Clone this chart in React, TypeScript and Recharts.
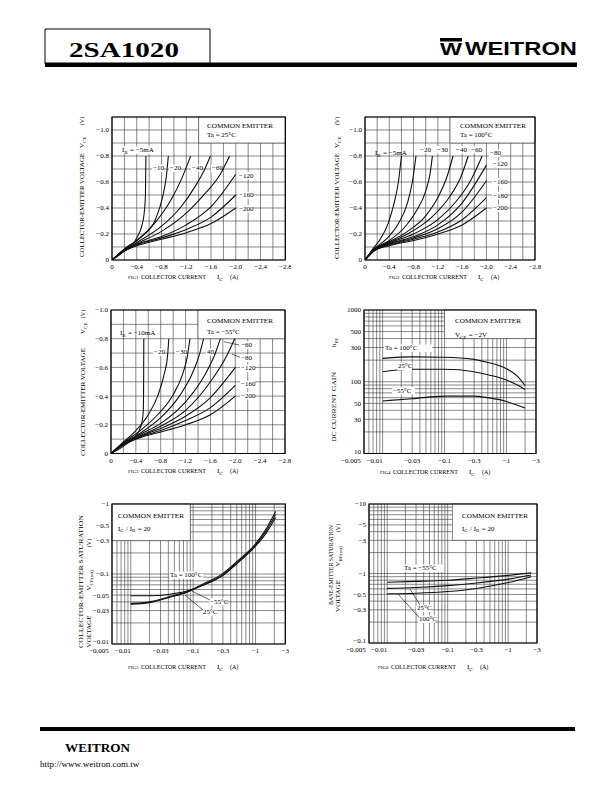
import React from "react";
import { LineChart, Line, XAxis, YAxis, CartesianGrid, ReferenceArea } from "recharts";

// 2SA1020 is PNP: currents and voltages are kept as magnitudes,
// the tick labels put the minus sign back.
const SERIF = '"Liberation Serif", "Times New Roman", serif';
const SANS = '"Liberation Sans", Arial, sans-serif';
const GRID = "#3a3a3a";
const INK = "#111";

// ---- FIG1  VCE vs IC, Ta = 25°C   [IC (A), VCE (V)]
const f1Ib5 = [[0, 0], [0.2, 0.07], [0.4, 0.17], [0.48, 0.26], [0.52, 0.36], [0.54, 0.5], [0.548, 0.8]];
const f1Ib10 = [[0, 0], [0.25, 0.1], [0.48, 0.18], [0.7, 0.31], [0.82, 0.49], [0.88, 0.65], [0.91, 0.8]];
const f1Ib20 = [[0, 0], [0.2, 0.085], [0.4, 0.15], [0.7, 0.29], [0.95, 0.46], [1.12, 0.62], [1.27, 0.8]];
const f1Ib40 = [[0, 0], [0.2, 0.08], [0.4, 0.135], [0.8, 0.26], [1.1, 0.4], [1.35, 0.57], [1.5, 0.7], [1.59, 0.8]];
const f1Ib60 = [[0, 0], [0.2, 0.075], [0.4, 0.125], [0.8, 0.22], [1.2, 0.36], [1.5, 0.51], [1.75, 0.66], [1.9, 0.8]];
const f1Ib120 = [[0, 0], [0.2, 0.07], [0.4, 0.12], [0.8, 0.18], [1.2, 0.27], [1.6, 0.41], [2.0, 0.66]];
const f1Ib160 = [[0, 0], [0.2, 0.07], [0.4, 0.115], [0.8, 0.17], [1.2, 0.235], [1.6, 0.33], [2.0, 0.5]];
const f1Ib200 = [[0, 0], [0.2, 0.07], [0.4, 0.11], [0.8, 0.16], [1.2, 0.21], [1.6, 0.28], [2.0, 0.4]];

// ---- FIG2  VCE vs IC, Ta = 100°C
const f2Ib5 = [[0, 0], [0.12, 0.08], [0.25, 0.16], [0.38, 0.28], [0.47, 0.42], [0.55, 0.6], [0.6, 0.8]];
const f2Ib20 = [[0, 0], [0.15, 0.085], [0.35, 0.16], [0.55, 0.28], [0.7, 0.44], [0.78, 0.6], [0.84, 0.8]];
const f2Ib30 = [[0, 0], [0.15, 0.08], [0.4, 0.15], [0.65, 0.25], [0.85, 0.38], [1.0, 0.53], [1.07, 0.66], [1.11, 0.8]];
const f2Ib40 = [[0, 0], [0.15, 0.08], [0.4, 0.14], [0.7, 0.22], [1.0, 0.34], [1.2, 0.48], [1.35, 0.64], [1.45, 0.8]];
const f2Ib60 = [[0, 0], [0.15, 0.075], [0.4, 0.135], [0.7, 0.2], [1.1, 0.33], [1.4, 0.49], [1.58, 0.64], [1.7, 0.8]];
const f2Ib80 = [[0, 0], [0.15, 0.075], [0.4, 0.13], [0.8, 0.2], [1.2, 0.31], [1.5, 0.45], [1.75, 0.62], [1.93, 0.8]];
const f2Ib120 = [[0, 0], [0.15, 0.075], [0.4, 0.125], [0.8, 0.18], [1.2, 0.27], [1.6, 0.44], [2.0, 0.73]];
const f2Ib160 = [[0, 0], [0.15, 0.07], [0.4, 0.12], [0.8, 0.17], [1.2, 0.24], [1.6, 0.37], [2.0, 0.61]];
const f2Ib180 = [[0, 0], [0.15, 0.07], [0.4, 0.115], [0.8, 0.16], [1.2, 0.215], [1.6, 0.31], [2.0, 0.48]];
const f2Ib200 = [[0, 0], [0.15, 0.07], [0.4, 0.11], [0.8, 0.15], [1.2, 0.2], [1.6, 0.27], [2.0, 0.4]];

// ---- FIG3  VCE vs IC, Ta = -55°C
const f3Ib10 = [[0, 0], [0.23, 0.06], [0.44, 0.15], [0.5, 0.22], [0.52, 0.3], [0.525, 0.5], [0.528, 0.8]];
const f3Ib20 = [[0, 0], [0.2, 0.08], [0.4, 0.16], [0.6, 0.27], [0.75, 0.4], [0.86, 0.56], [0.91, 0.68], [0.93, 0.8]];
const f3Ib30 = [[0, 0], [0.2, 0.075], [0.5, 0.17], [0.75, 0.27], [1.0, 0.41], [1.15, 0.55], [1.23, 0.68], [1.27, 0.8]];
const f3Ib40 = [[0, 0], [0.2, 0.07], [0.5, 0.15], [0.8, 0.25], [1.1, 0.4], [1.3, 0.55], [1.43, 0.7], [1.49, 0.8]];
const f3Ib60 = [[0, 0], [0.2, 0.07], [0.5, 0.14], [0.8, 0.21], [1.2, 0.36], [1.5, 0.54], [1.68, 0.7], [1.76, 0.8]];
const f3Ib80 = [[0, 0], [0.2, 0.065], [0.5, 0.13], [0.8, 0.19], [1.2, 0.3], [1.6, 0.5], [1.85, 0.67], [1.99, 0.8]];
const f3Ib120 = [[0, 0], [0.2, 0.065], [0.5, 0.125], [0.8, 0.175], [1.2, 0.26], [1.6, 0.39], [2.0, 0.6]];
const f3Ib160 = [[0, 0], [0.2, 0.06], [0.5, 0.12], [0.8, 0.16], [1.2, 0.23], [1.6, 0.32], [2.0, 0.475]];
const f3Ib200 = [[0, 0], [0.2, 0.06], [0.5, 0.115], [0.8, 0.15], [1.2, 0.2], [1.6, 0.27], [2.0, 0.4]];

// ---- FIG4  hFE vs IC, VCE = -2V
const f4Ta100 = [[0.01, 212], [0.03, 222], [0.1, 220], [0.3, 205], [0.5, 186], [1.0, 152], [1.5, 120], [2.0, 88]];
const f4Ta25 = [[0.01, 138], [0.03, 149], [0.1, 149], [0.3, 138], [0.5, 125], [1.0, 106], [1.5, 90], [2.0, 78]];
const f4TaM55 = [[0.01, 54], [0.03, 58], [0.1, 63], [0.3, 63], [0.5, 60], [1.0, 53], [1.5, 47], [2.0, 43]];

// ---- FIG5  VCE(sat) vs IC, IC/IB = 20
const f5Ta100 = [[0.01, 0.038], [0.02, 0.04], [0.04, 0.047], [0.08, 0.056], [0.15, 0.073], [0.3, 0.102], [0.5, 0.15], [1.0, 0.27], [1.5, 0.45], [2.1, 0.78]];
const f5Ta25 = [[0.01, 0.037], [0.02, 0.039], [0.04, 0.046], [0.08, 0.055], [0.15, 0.071], [0.3, 0.098], [0.5, 0.145], [1.0, 0.26], [1.5, 0.42], [2.1, 0.71]];
const f5TaM55 = [[0.01, 0.049], [0.02, 0.049], [0.04, 0.051], [0.08, 0.057], [0.15, 0.07], [0.3, 0.095], [0.5, 0.14], [1.0, 0.25], [1.5, 0.39], [2.1, 0.64]];

// ---- FIG6  VBE(sat) vs IC, IC/IB = 20
const f6TaM55 = [[0.01, 0.75], [0.03, 0.77], [0.1, 0.8], [0.3, 0.86], [1.0, 0.94], [2.4, 1.02]];
const f6Ta25 = [[0.01, 0.61], [0.03, 0.63], [0.1, 0.67], [0.3, 0.73], [1.0, 0.83], [2.4, 0.95]];
const f6Ta100 = [[0.01, 0.51], [0.03, 0.52], [0.1, 0.55], [0.3, 0.61], [1.0, 0.74], [2.4, 0.9]];

// ---- axes: grid positions and printed labels [value, text, nudge]
const icLinGrid = [0, 0.2, 0.4, 0.6, 0.8, 1.0, 1.2, 1.4, 1.6, 1.8, 2.0, 2.2, 2.4, 2.6, 2.8];
const icLinLabels = [[0, "0"], [0.4, "\u22120.4"], [0.8, "\u22120.8"], [1.2, "\u22121.2"], [1.6, "\u22121.6"], [2.0, "\u22122.0"], [2.4, "\u22122.4"], [2.8, "\u22122.8"]];
const vceGrid = [0, 0.1, 0.2, 0.3, 0.4, 0.5, 0.6, 0.7, 0.8, 0.9, 1.0];
const vceLabels = [[0, "0"], [0.2, "\u22120.2"], [0.4, "\u22120.4"], [0.6, "\u22120.6"], [0.8, "\u22120.8"], [1.0, "\u22121.0"]];
const icLogLabels = [[0.005, "\u22120.005", -13], [0.01, "\u22120.01", -8], [0.03, "\u22120.03"], [0.1, "\u22120.1"], [0.3, "\u22120.3"], [1, "\u22121"], [3, "\u22123"]];
const hfeLabels = [[10, "10", -2], [30, "30"], [50, "50"], [100, "100"], [300, "300"], [500, "500"], [1000, "1000"]];
const vceSatLabels = [[0.01, "\u22120.01", -2], [0.03, "\u22120.03"], [0.05, "\u22120.05"], [0.1, "\u22120.1"], [0.3, "\u22120.3"], [0.5, "\u22120.5"], [1, "\u22121"]];
const vbeSatLabels = [[0.1, "\u22120.1", -2], [0.3, "\u22120.3"], [0.5, "\u22120.5"], [1, "\u22121"], [3, "\u22123"], [5, "\u22125"], [10, "\u221210"]];

// 1..9 x 10^k lines of a log grid
function logGrid(lo: number, hi: number) {
  const out: number[] = [];
  for (let e = -4; e <= 3; e++)
    for (let m = 1; m <= 9; m++) {
      const v = Number((m * Math.pow(10, e)).toPrecision(3));
      if (v >= lo * 0.9999 && v <= hi * 1.0001) out.push(v);
    }
  return out;
}

const toPts = (c: number[][]) => c.map(([i, v]) => ({ i, v }));
const findLabel = (labels: any[], v: number) =>
  labels.find((l) => Math.abs(l[0] - v) <= Math.abs(l[0]) * 1e-6 + 1e-9);

function XTick(props: any) {
  const { x, y, payload, labels } = props;
  const hit = findLabel(labels, payload.value);
  if (!hit) return <g />;
  return (
    <text x={x + (hit[2] || 0)} y={y} dy="0.72em" textAnchor="middle" fontSize={7} fontFamily={SERIF} fill="#000">
      {hit[1]}
    </text>
  );
}

function YTick(props: any) {
  const { x, y, payload, labels } = props;
  const hit = findLabel(labels, payload.value);
  if (!hit) return <g />;
  return (
    <text x={x} y={y + (hit[2] || 0)} dy="0.35em" textAnchor="end" fontSize={7} fontFamily={SERIF} fill="#000">
      {hit[1]}
    </text>
  );
}

const YW = 36;
const XH = 16;
const PAD = 6;

function Panel(p: any) {
  const scale = p.log ? "log" : "linear";
  return (
    <div style={{ position: "absolute", left: p.x - YW, top: p.y - PAD }}>
      <LineChart width={p.w + YW + PAD} height={p.h + PAD + XH} margin={{ top: PAD, right: PAD, bottom: 0, left: 0 }}>
        <CartesianGrid stroke={GRID} strokeWidth={0.6} />
        <XAxis
          type="number"
          dataKey="i"
          scale={scale}
          domain={p.xDom}
          allowDataOverflow
          ticks={p.xGrid}
          interval={0}
          height={XH}
          axisLine={false}
          tickLine={false}
          tickSize={2}
          tick={(t: any) => <XTick {...t} labels={p.xLabels} />}
        />
        <YAxis
          type="number"
          dataKey="v"
          scale={scale}
          domain={p.yDom}
          allowDataOverflow
          ticks={p.yGrid}
          interval={0}
          width={YW}
          axisLine={false}
          tickLine={false}
          tickSize={1}
          tick={(t: any) => <YTick {...t} labels={p.yLabels} />}
        />
        {/* white panel behind the COMMON EMITTER note */}
        <ReferenceArea x1={p.box[0]} x2={p.box[1]} y1={p.box[2]} y2={p.box[3]} fill="#fff" fillOpacity={1} stroke={GRID} strokeWidth={0.6} />
        {p.curves.map((c: number[][], k: number) => (
          <Line
            key={k}
            data={toPts(c)}
            dataKey="v"
            type="monotone"
            dot={false}
            activeDot={false}
            stroke={INK}
            strokeWidth={1.1}
            isAnimationActive={false}
          />
        ))}
        <ReferenceArea x1={p.xDom[0]} x2={p.xDom[1]} y1={p.yDom[0]} y2={p.yDom[1]} fill="none" stroke="#000" strokeWidth={1.2} />
      </LineChart>
    </div>
  );
}

// ---- overlay text helpers
function T({ x, y, size = 7, anchor = "start", len, bold, family = SERIF, bg, children }: any) {
  return (
    <g>
      {bg ? <rect x={x - 1} y={y - size * 0.78} width={bg} height={size + 0.5} fill="#fff" /> : null}
      <text
        x={x}
        y={y}
        fontSize={size}
        textAnchor={anchor}
        fontFamily={family}
        fontWeight={bold ? "bold" : "normal"}
        textLength={len}
        lengthAdjust={len ? "spacingAndGlyphs" : undefined}
        fill="#000"
      >
        {children}
      </text>
    </g>
  );
}

function VT({ x, y, size = 7, len, children }: any) {
  return (
    <text
      transform={`translate(${x},${y}) rotate(-90)`}
      dy="0.35em"
      textAnchor="middle"
      fontSize={size}
      fontFamily={SERIF}
      textLength={len}
      lengthAdjust={len ? "spacingAndGlyphs" : undefined}
      fill="#000"
    >
      {children}
    </text>
  );
}

const Sub = ({ children, s = 5 }: any) => (
  <>
    <tspan fontSize={s} dy={1.8}>{children}</tspan>
    <tspan dy={-1.8}>{"\u200a"}</tspan>
  </>
);

function XTitle({ x, y, n }: any) {
  return (
    <g>
      <T x={x} y={y} size={5}>{`FIG${n}`}</T>
      <T x={x + 13} y={y} len={65}>COLLECTOR CURRENT</T>
      <T x={x + 89} y={y}>I<Sub>C</Sub></T>
      <T x={x + 102} y={y} size={6}>(A)</T>
    </g>
  );
}

const Lead = ({ a, b }: any) => <line x1={a[0]} y1={a[1]} x2={b[0]} y2={b[1]} stroke="#000" strokeWidth={0.6} />;

export default function App() {
  return (
    <div style={{ position: "absolute", left: 0, top: 0, width: 612, height: 792, background: "#fff", overflow: "hidden" }}>
      <Panel
        x={111.7} y={117} w={173.3} h={143}
        xDom={[0, 2.8]} yDom={[0, 1.1]}
        xGrid={icLinGrid} yGrid={vceGrid} xLabels={icLinLabels} yLabels={vceLabels}
        box={[1.4, 2.8, 0.9, 1.1]}
        curves={[f1Ib5, f1Ib10, f1Ib20, f1Ib40, f1Ib60, f1Ib120, f1Ib160, f1Ib200]}
      />
      <Panel
        x={365} y={117} w={170} h={143}
        xDom={[0, 2.8]} yDom={[0, 1.1]}
        xGrid={icLinGrid} yGrid={vceGrid} xLabels={icLinLabels} yLabels={vceLabels}
        box={[1.4, 2.8, 0.9, 1.1]}
        curves={[f2Ib5, f2Ib20, f2Ib30, f2Ib40, f2Ib60, f2Ib80, f2Ib120, f2Ib160, f2Ib180, f2Ib200]}
      />
      <Panel
        x={111} y={310} w={174} h={143.5}
        xDom={[0, 2.8]} yDom={[0, 1.0]}
        xGrid={icLinGrid} yGrid={vceGrid} xLabels={icLinLabels} yLabels={vceLabels}
        box={[1.4, 2.8, 0.8, 1.0]}
        curves={[f3Ib10, f3Ib20, f3Ib30, f3Ib40, f3Ib60, f3Ib80, f3Ib120, f3Ib160, f3Ib200]}
      />
      <Panel
        log x={364} y={310} w={172} h={143.5}
        xDom={[0.005, 3]} yDom={[10, 1000]}
        xGrid={logGrid(0.005, 3)} yGrid={logGrid(10, 1000)} xLabels={icLogLabels} yLabels={hfeLabels}
        box={[0.1, 3, 400, 1000]}
        curves={[f4Ta100, f4Ta25, f4TaM55]}
      />
      <Panel
        log x={111.7} y={504.3} w={173.3} h={140}
        xDom={[0.005, 3]} yDom={[0.01, 1]}
        xGrid={logGrid(0.005, 3)} yGrid={logGrid(0.01, 1)} xLabels={icLogLabels} yLabels={vceSatLabels}
        box={[0.005, 0.09, 0.3, 1]}
        curves={[f5Ta100, f5Ta25, f5TaM55]}
      />
      <Panel
        log x={369} y={504.3} w={168} h={139}
        xDom={[0.005, 3]} yDom={[0.1, 10]}
        xGrid={logGrid(0.005, 3)} yGrid={logGrid(0.1, 10)} xLabels={icLogLabels} yLabels={vbeSatLabels}
        box={[0.12, 3, 3, 10]}
        curves={[f6TaM55, f6Ta25, f6Ta100]}
      />

      <svg width={612} height={792} style={{ position: "absolute", left: 0, top: 0 }}>
        {/* header */}
        <path d="M45 64 V29 H210 V64" fill="none" stroke="#000" strokeWidth={1} />
        <rect x={45} y={62.5} width={532} height={4.5} fill="#000" />
        <T x={69} y={57} size={21} bold len={110}>2SA1020</T>
        <rect x={440} y={38} width={22} height={3.5} fill="#000" />
        <T x={440} y={55} size={17} bold family={SANS} len={22}>W</T>
        <T x={465} y={55} size={19} bold family={SANS} len={112}>WEITRON</T>

        {/* FIG1 */}
        <VT x={82} y={205} len={104}>COLLECTOR-EMITTER VOLTAGE</VT>
        <VT x={82} y={142}>V<Sub>CE</Sub></VT>
        <VT x={82} y={121} size={6}>(V)</VT>
        <T x={207} y={127.5} len={66}>COMMON EMITTER</T>
        <T x={207} y={137}>Ta = 25°C</T>
        <T x={122} y={152} bg={36}>I<Sub>B</Sub> = {"\u2212"}5mA</T>
        <T x={153} y={170} bg={11}>{"\u2212"}10</T>
        <T x={170} y={170} bg={11}>{"\u2212"}20</T>
        <T x={192} y={170} bg={11}>{"\u2212"}40</T>
        <T x={212} y={170} bg={10}>{"\u2212"}60</T>
        <T x={239} y={177.5} bg={15}>{"\u2212"}120</T>
        <T x={239} y={197} bg={15}>{"\u2212"}160</T>
        <T x={239} y={210.5} bg={15}>{"\u2212"}200</T>
        <XTitle x={128} y={279} n={1} />

        {/* FIG2 */}
        <VT x={337} y={206} len={106}>COLLECTOR-EMITTER VOLTAGE</VT>
        <VT x={337} y={142}>V<Sub>CE</Sub></VT>
        <VT x={337} y={121} size={6}>(V)</VT>
        <T x={460} y={127.5} len={66}>COMMON EMITTER</T>
        <T x={460} y={137}>Ta = 100°C</T>
        <T x={375} y={155}>I<Sub>B</Sub> = {"\u2212"}5mA</T>
        <T x={420} y={151.5} bg={11}>{"\u2212"}20</T>
        <T x={437} y={151.5} bg={11}>{"\u2212"}30</T>
        <T x={456} y={151.5} bg={11}>{"\u2212"}40</T>
        <T x={471} y={151.5} bg={11}>{"\u2212"}60</T>
        <T x={490} y={155} bg={11}>{"\u2212"}80</T>
        <T x={493} y={166} bg={15}>{"\u2212"}120</T>
        <T x={493} y={183.5} bg={15}>{"\u2212"}160</T>
        <T x={493} y={197.5} bg={15}>{"\u2212"}180</T>
        <T x={493} y={210} bg={15}>{"\u2212"}200</T>
        <XTitle x={389} y={279} n={2} />

        {/* FIG3 */}
        <VT x={83} y={402} len={108}>COLLECTOR-EMITTER VOLTAGE</VT>
        <VT x={83} y={328}>V<Sub>CE</Sub></VT>
        <VT x={83} y={314} size={6}>(V)</VT>
        <T x={207} y={322.5} len={66}>COMMON EMITTER</T>
        <T x={207} y={334}>Ta = {"\u2212"}55°C</T>
        <T x={120} y={335}>I<Sub>B</Sub> = {"\u2212"}10mA</T>
        <T x={154} y={354} bg={11}>{"\u2212"}20</T>
        <T x={176} y={354} bg={11}>{"\u2212"}30</T>
        <T x={207} y={354} bg={8}>40</T>
        <T x={241} y={347} bg={11}>{"\u2212"}60</T>
        <T x={241} y={360} bg={11}>{"\u2212"}80</T>
        <T x={241} y={370} bg={15}>{"\u2212"}120</T>
        <T x={241} y={386} bg={15}>{"\u2212"}160</T>
        <T x={241} y={397.5} bg={15}>{"\u2212"}200</T>
        <Lead a={[224, 341.7]} b={[239, 345]} />
        <Lead a={[231.7, 354]} b={[240, 357.3]} />
        <XTitle x={128} y={473} n={3} />

        {/* FIG4 */}
        <VT x={334} y={407} len={70}>DC CURRENT GAIN</VT>
        <VT x={334} y={342}>h<Sub>FE</Sub></VT>
        <T x={455} y={322.5} len={66}>COMMON EMITTER</T>
        <T x={455} y={337}>V<Sub>CE</Sub> = {"\u2212"}2V</T>
        <T x={385} y={350} bg={48}>Ta = 100°C</T>
        <T x={398} y={368} bg={15}>25°C</T>
        <T x={393} y={392.5} bg={23}>{"\u2212"}55°C</T>
        <XTitle x={380} y={474} n={4} />

        {/* FIG5 */}
        <VT x={81} y={581.5} len={133}>COLLECTOR-EMITTER SATURATION</VT>
        <VT x={89} y={631.5}>VOLTAGE</VT>
        <VT x={89} y={580}>V<Sub>CE(sat)</Sub></VT>
        <VT x={89} y={543} size={6}>(V)</VT>
        <T x={118} y={518} len={66}>COMMON EMITTER</T>
        <T x={118} y={530.5}>I<Sub>C</Sub> / I<Sub>B</Sub> = 20</T>
        <T x={170} y={577} bg={34}>Ta = 100°C</T>
        <T x={210} y={603.5} bg={17}>{"\u2212"}55°C</T>
        <T x={203} y={614} bg={15}>25°C</T>
        <Lead a={[191.7, 591]} b={[210, 600]} />
        <Lead a={[185, 595]} b={[203, 610]} />
        <XTitle x={128} y={669} n={5} />

        {/* FIG6 */}
        <VT x={331} y={565} len={80}>BASE-EMITTER SATURATION</VT>
        <VT x={338} y={596}>VOLTAGE</VT>
        <VT x={338} y={556}>V<Sub>BE(sat)</Sub></VT>
        <VT x={338} y={528} size={6}>(V)</VT>
        <T x={462} y={518} len={66}>COMMON EMITTER</T>
        <T x={462} y={530.5}>I<Sub>C</Sub> / I<Sub>B</Sub> = 20</T>
        <T x={404} y={570} bg={40}>Ta = {"\u2212"}55°C</T>
        <T x={417} y={610} bg={15}>25°C</T>
        <T x={419} y={621} bg={17}>100°C</T>
        <Lead a={[410, 589]} b={[420, 605]} />
        <Lead a={[398.3, 594.3]} b={[419.3, 617.7]} />
        <XTitle x={378} y={669} n={6} />

        {/* footer */}
        <rect x={40} y={727} width={535} height={4} fill="#000" />
        <T x={65} y={752} size={13} bold len={65}>WEITRON</T>
        <T x={40} y={767} size={9}>http://www.weitron.com.tw</T>
      </svg>
    </div>
  );
}
